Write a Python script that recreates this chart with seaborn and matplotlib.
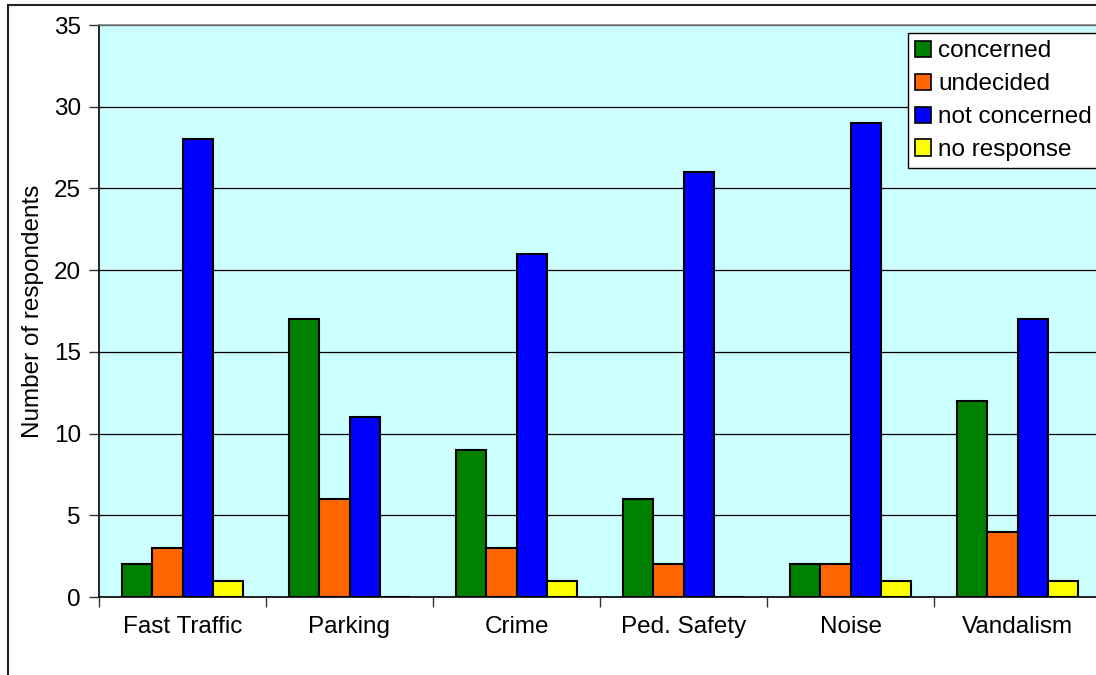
import pandas as pd
import seaborn as sns
from matplotlib import pyplot as plt
from matplotlib.patches import Patch, Rectangle
from matplotlib.ticker import FixedLocator

categories = ["Fast Traffic", "Parking", "Crime", "Ped. Safety", "Noise", "Vandalism"]
responses = ["concerned", "undecided", "not concerned", "no response"]

concerned = [2, 17, 9, 6, 2, 12]
undecided = [3, 6, 3, 2, 2, 4]
not_concerned = [28, 11, 21, 26, 29, 17]
no_response = [1, 0, 1, 0, 1, 1]

y_ticks = [0, 5, 10, 15, 20, 25, 30, 35]

colors = ["#008000", "#FF6600", "#0000FF", "#FFFF00"]
FONT = 17.5
W, H = 1096, 675


def build_frame() -> pd.DataFrame:
	rows = []
	for resp, values in zip(responses, [concerned, undecided, not_concerned, no_response]):
		for cat, v in zip(categories, values):
			rows.append({"category": cat, "response": resp, "count": v})
	return pd.DataFrame(rows)


plt.rcParams["font.family"] = ["Liberation Sans", "DejaVu Sans"]
plt.rcParams["font.size"] = FONT

fig = plt.figure(figsize=(W / 100, H / 100), dpi=100)
fig.patch.set_facecolor("white")

# outer chart frame (cut by the right and bottom of the picture)
fig.patches.append(Rectangle((8 / W, -0.1), 1.2, 1.1 - 5 / H, transform=fig.transFigure,
	fill=False, edgecolor="#222222", linewidth=1.5))

ax = fig.add_axes([99 / W, 78 / H, 1002 / W, 572 / H])
ax.set_facecolor("#CCFFFF")

df = build_frame()
sns.barplot(
	data=df, x="category", y="count", hue="response", hue_order=responses,
	palette=colors, saturation=1, width=0.728, gap=0,
	edgecolor="black", linewidth=1.5, legend=False, ax=ax,
)

ax.set_xlim(-0.5, len(categories) - 0.5)
ax.set_ylim(0, 35)
ax.set_yticks(y_ticks)
ax.yaxis.grid(True, color="black", linewidth=0.9)
ax.set_axisbelow(True)

ax.tick_params(axis="x", which="major", length=0, pad=14, labelsize=FONT)
ax.xaxis.set_minor_locator(FixedLocator([i - 0.5 for i in range(len(categories) + 1)]))
ax.tick_params(axis="x", which="minor", length=7, width=1, color="#333333", direction="out")
ax.tick_params(axis="y", length=7, width=1, color="#333333", direction="out", pad=6, labelsize=FONT)

ax.set_xlabel("")
ax.set_ylabel("Number of respondents", fontsize=FONT)
ax.yaxis.set_label_coords(-55 / 1002, 0.5)

for side in ["left", "bottom"]:
	ax.spines[side].set_color("black")
	ax.spines[side].set_linewidth(1.2)
ax.spines["top"].set_color("#808080")
ax.spines["top"].set_linewidth(1.2)
ax.spines["right"].set_visible(False)

handles = [Patch(facecolor=c, edgecolor="black", linewidth=1.2) for c in colors]
leg = fig.legend(
	handles, responses, loc="upper left", bbox_to_anchor=(908 / W, 1 - 33 / H, 200 / W, 0),
	mode="expand", fontsize=FONT, frameon=True, fancybox=False, framealpha=1, edgecolor="black",
	handlelength=0.65, handleheight=0.65, handletextpad=0.3, labelspacing=0.45,
	borderpad=0.3, borderaxespad=0,
)
leg.get_frame().set_linewidth(1.0)

fig.savefig("out.png", dpi=100)
